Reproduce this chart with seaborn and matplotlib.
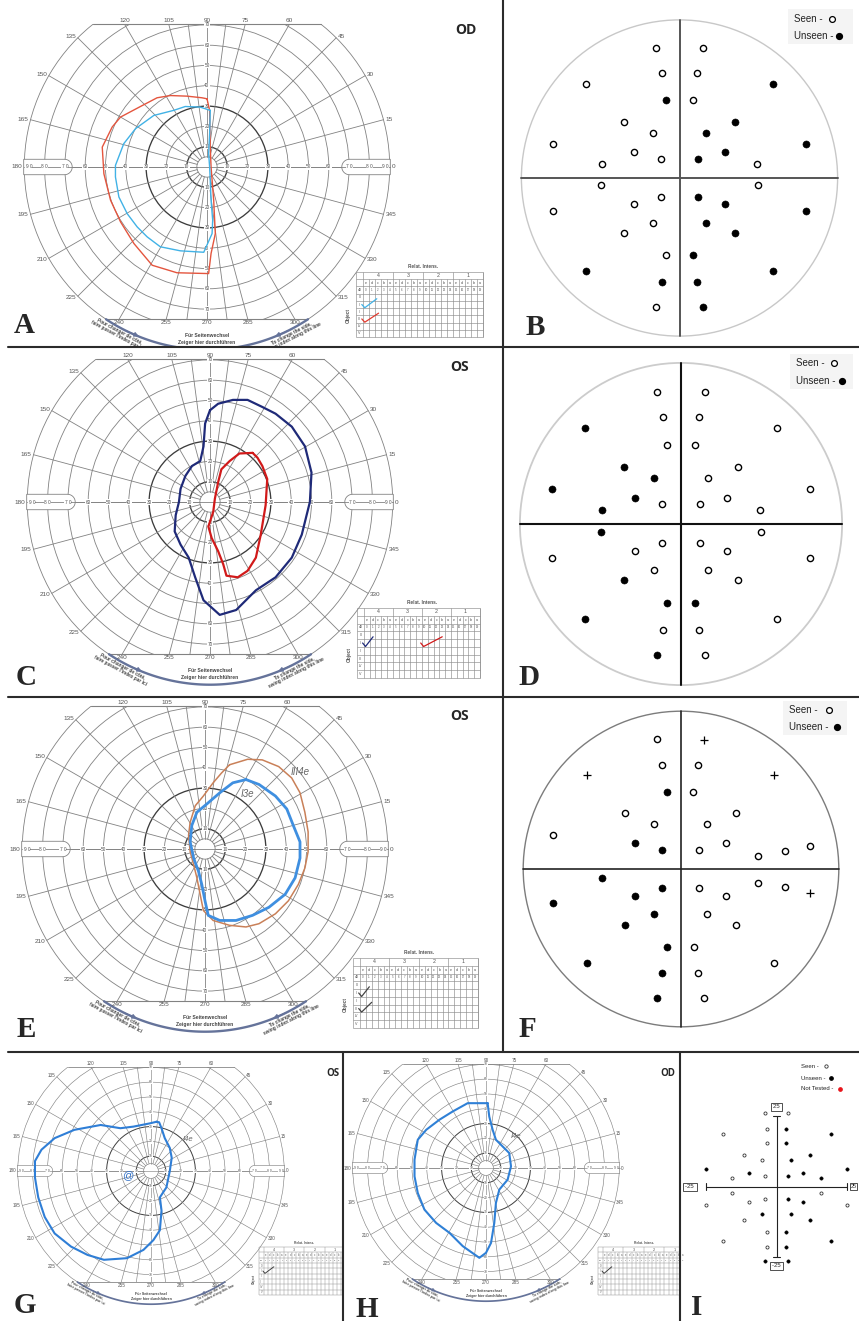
import numpy as np
import pandas as pd
import matplotlib
matplotlib.use("Agg")
import matplotlib.pyplot as plt
import seaborn as sns
from matplotlib.patches import Circle, Rectangle, Polygon
from matplotlib.lines import Line2D

sns.set_style("white")
plt.rcParams['font.family'] = ['Liberation Sans', 'DejaVu Sans']

W, H = 859, 1321
fig = plt.figure(figsize=(W / 100, H / 100), dpi=100)

# ---------------------------------------------------------------- data
MERIDIANS = list(range(0, 360, 15))
RINGS = [10, 20, 30, 40, 50, 60, 70, 80, 90]

# isopters: horizontal / vertical eccentricity in degrees
A_RED_X = [0, 1.3, 1.6, 2.0, 3.3, 4.1, 2.0, 0.8, -14.8, -27.0, -36.0, -42.6, -47.5, -50.8, -51.6, -46.7, -42.6, -32.8, -24.6, -18.0, -9.8, -2.5, 0]
A_RED_Y = [33.6, 27.9, 9.8, 0.0, -16.4, -32.8, -42.6, -52.5, -52.1, -48.4, -37.7, -27.0, -16.4, -3.3, 9.8, 19.7, 24.6, 29.8, 34.1, 35.2, 34.9, 34.1, 33.6]
A_BLUE_X = [1.6, -3.3, -10.7, -16.4, -26.2, -35.2, -41.0, -45.1, -45.1, -43.4, -39.3, -34.4, -29.5, -23.0, -13.1, -1.6, 2.5, 2.8, 2.0, 1.6, 1.3, 0.8, 1.3, 1.6]
A_BLUE_Y = [27.9, 29.5, 29.8, 27.9, 25.4, 18.9, 11.5, 0.8, -4.9, -14.8, -23.0, -29.5, -34.4, -39.3, -41.3, -42.0, -32.8, -26.2, -16.4, -6.6, 0.0, 6.6, 16.4, 27.9]

C_NAVY_X = [0.0, -2.4, -3.2, -4.8, -8.9, -12.1, -14.5, -15.3, -16.9, -17.4, -14.5, -10.5, -7.3, -3.2, 4.8, 12.9, 22.6, 32.3, 40.3, 45.2, 49.2, 50.0, 46.8, 40.3, 32.3, 25.8, 18.5, 11.3, 4.0, 0.0]
C_NAVY_Y = [45.2, 38.7, 27.4, 20.2, 17.7, 12.9, 6.5, 0.0, -6.5, -14.5, -21.0, -27.4, -37.1, -48.4, -55.6, -53.2, -43.5, -37.1, -27.4, -16.1, 0.0, 14.5, 27.4, 37.1, 43.5, 46.8, 50.3, 50.3, 48.4, 45.2]
C_RED_X = [21.0, 14.5, 9.7, 5.6, 4.0, 2.4, 1.6, -0.8, 0.8, 4.0, 6.5, 8.1, 13.7, 18.5, 22.6, 25.0, 27.4, 28.2, 25.8, 23.4, 21.0]
C_RED_Y = [24.2, 23.9, 20.2, 16.1, 9.7, 1.6, -4.8, -12.1, -17.7, -24.2, -30.6, -36.3, -37.1, -33.9, -27.4, -16.1, -1.6, 11.3, 17.7, 21.8, 24.2]

E_BROWN_X = [12.1, 21.0, 28.2, 36.3, 42.7, 46.8, 49.2, 50.8, 50.8, 49.2, 46.0, 41.1, 34.7, 26.6, 20.2, 12.1, 4.0, -0.8, -2.4, -4.0, -5.6, -7.3, -8.1, -7.3, -4.8, -0.8, 4.0, 8.1, 12.1]
E_BROWN_Y = [41.5, 44.2, 43.9, 40.6, 35.0, 27.7, 18.1, 8.4, -1.3, -9.4, -17.4, -25.5, -31.9, -36.8, -38.4, -37.6, -35.2, -30.3, -22.3, -14.2, -7.7, -1.3, 6.8, 13.2, 21.3, 26.1, 32.6, 37.4, 41.5]
E_BLUE_X = [20.2, 26.6, 34.7, 40.3, 43.5, 46.8, 46.8, 44.4, 39.5, 31.5, 23.4, 15.3, 7.3, 1.6, 0.0, -1.6, -3.2, -5.6, -7.3, -6.5, -4.0, 0.8, 7.3, 13.7, 20.2]
E_BLUE_Y = [34.2, 31.8, 26.1, 19.7, 11.6, 3.5, -4.5, -14.2, -22.3, -28.7, -32.7, -35.2, -35.2, -32.7, -25.5, -17.4, -11.0, -4.5, 3.5, 11.6, 18.1, 22.1, 27.7, 32.6, 34.2]

G_BLUE_X = [3.8, -0.7, -11.8, -20.7, -34.0, -51.8, -65.1, -74.0, -78.4, -78.4, -76.2, -71.8, -65.1, -54.0, -42.9, -31.8, -16.2, -5.1, 1.6, 6.0, 7.1, 6.0, 10.4, 12.7, 14.0, 12.7, 9.3, 7.1, 5.5, 3.8]
G_BLUE_Y = [33.3, 32.2, 30.0, 28.9, 31.1, 27.8, 22.2, 14.4, 6.7, -4.4, -17.8, -31.1, -42.2, -51.1, -56.7, -60.0, -58.9, -53.3, -46.7, -40.0, -26.7, -17.8, -11.1, 0.0, 8.9, 15.6, 22.2, 28.9, 32.9, 33.3]

H_BLUE_X = [1.1, -6.7, -12.4, -22.5, -31.5, -40.4, -46.1, -48.3, -48.3, -46.1, -41.6, -33.7, -24.7, -15.7, -4.5, 0.0, 3.4, 5.6, 6.7, 9.0, 14.6, 16.9, 15.7, 11.2, 6.7, 4.5, 2.2, 1.1]
H_BLUE_Y = [43.8, 43.8, 43.8, 38.2, 32.6, 25.8, 19.1, 5.6, -5.6, -16.9, -28.1, -37.1, -43.8, -52.8, -60.7, -57.3, -50.6, -37.1, -23.6, -14.6, -7.9, 1.1, 10.1, 14.6, 19.1, 25.8, 34.8, 43.8]

# static perimetry test locations (degrees), left half; right half mirrored
LOC_X_LEFT = [-4.4, -3.4, -17.8, -2.6, -10.6, -5.0, -24.0, -8.6, -3.6, -14.8,
              -14.9, -3.6, -8.6, -24.0, -5.0, -10.6, -2.6, -17.8, -3.4, -4.4]
LOC_Y = [24.6, 19.9, 17.9, 14.8, 10.6, 8.6, 6.5, 4.9, 3.7, 2.7,
         -1.4, -3.6, -5.0, -6.3, -8.5, -10.5, -14.7, -17.7, -19.7, -24.4]
B_STATUS_LEFT = ['s', 's', 's', 'u', 's', 's', 's', 's', 's', 's',
                 's', 's', 's', 's', 's', 's', 's', 'u', 'u', 's']
B_STATUS_RIGHT = ['s', 's', 'u', 's', 'u', 'u', 'u', 'u', 'u', 's',
                  's', 'u', 'u', 'u', 'u', 'u', 'u', 'u', 'u', 'u']
D_STATUS_LEFT = ['s', 's', 'u', 's', 'u', 'u', 'u', 'u', 's', 'u',
                 'u', 's', 's', 's', 's', 'u', 'u', 'u', 's', 'u']
D_STATUS_RIGHT = ['s', 's', 's', 's', 's', 's', 's', 's', 's', 's',
                  's', 's', 's', 's', 's', 's', 'u', 's', 's', 's']

F_X = [-4.6, -3.6, -17.8, -2.7, -10.7, -5.1, -24.3, -8.8, -3.7,
       4.3, 3.3, 17.7, 2.3, 10.5, 5.0, 8.5, 3.5, 14.6, 19.7, 24.6,
       14.6, 19.7, 24.6, 3.5, 8.5, 5.0, 10.5, 2.5, 17.7, 3.3, 4.3,
       -15.0, -3.7, -8.8, -24.3, -5.1, -10.7, -2.7, -17.8, -3.6, -4.6]
F_Y = [24.7, 19.8, 17.8, 14.7, 10.6, 8.6, 6.5, 5.0, 3.6,
       24.6, 19.8, 17.8, 14.7, 10.6, 8.6, 5.0, 3.6, 2.5, 3.4, 4.4,
       -2.6, -3.4, -4.5, -3.6, -5.1, -8.6, -10.7, -14.8, -17.8, -19.7, -24.6,
       -1.7, -3.6, -5.1, -6.5, -8.6, -10.7, -14.8, -17.8, -19.7, -24.6]
F_STATUS = ['s', 's', '+', 'u', 's', 's', 's', 'u', 'u',
            '+', 's', '+', 's', 's', 's', 's', 's', 's', 's', 's',
            's', 's', '+', 's', 's', 's', 's', 's', 's', 's', 's',
            'u', 'u', 'u', 'u', 'u', 'u', 'u', 'u', 'u', 'u']

I_X = [-4.2, 4.1, -3.3, 3.2, -18.9, 19.1, -3.3, 3.2, -11.6, 11.6, -5.3, 5.2, -25.1, 25.0, -9.7, 9.4, -15.8, 15.8, -4.2, 4.1,
       -15.8, 15.8, -25.1, 25.0, -9.7, 9.4, -4.2, 4.1, -5.3, 5.2, -11.6, 11.6, -3.3, 3.2, -18.9, 19.1, -3.3, 3.2, -4.2, 4.1]
I_Y = [25.9, 25.9, 20.5, 20.5, 18.6, 18.6, 15.5, 15.5, 11.2, 11.2, 9.3, 9.3, 6.1, 6.1, 4.9, 4.9, 2.9, 2.9, 3.9, 3.9,
       -2.4, -2.4, -6.5, -6.5, -5.5, -5.5, -4.5, -4.5, -9.8, -9.8, -11.8, -11.8, -16.1, -16.1, -19.1, -19.1, -21.2, -21.2, -26.4, -26.4]
I_STATUS = ['s', 's', 's', 'u', 's', 'u', 's', 'u', 's', 'u', 's', 'u', 'u', 'u', 'u', 'u', 's', 'u', 's', 'u',
            's', 's', 's', 's', 's', 'u', 's', 'u', 'u', 'u', 's', 'u', 's', 'u', 's', 'u', 's', 'u', 'u', 'u']

TABLE_GROUPS = ['4', '3', '2', '1']
TABLE_LETTERS = ['e', 'd', 'c', 'b', 'a']
TABLE_OBJECTS = ['0', 'I', 'II', 'III', 'IV', 'V']


# ---------------------------------------------------------------- helpers
class Panel:
    def __init__(self, box, center, s):
        x0, y0, x1, y1 = box
        self.cx, self.cy, self.s = center[0], center[1], s
        self.ax = fig.add_axes([x0 / W, 1 - y1 / H, (x1 - x0) / W, (y1 - y0) / H])
        self.lim = ((x0 - self.cx) / s, (x1 - self.cx) / s), ((self.cy - y1) / s, (self.cy - y0) / s)
        self.fix()
        self.ax.set_axis_off()

    def fix(self):
        self.ax.set_xlim(*self.lim[0])
        self.ax.set_ylim(*self.lim[1])

    def P(self, px, py):
        return (px - self.cx) / self.s, (self.cy - py) / self.s


def ftext(px, py, s, **kw):
    fig.text(px / W, 1 - py / H, s, **kw)


def fline(xa, ya, xb, yb, lw=1.5, color='#2b2b2b'):
    fig.add_artist(Line2D([xa / W, xb / W], [1 - ya / H, 1 - yb / H], color=color, lw=lw,
                          transform=fig.transFigure, zorder=10))


GRID, DARK = '#828282', '#3c3c3c'


def goldmann(p, k=1.0):
    ax = p.ax
    top, bot = 70.5, -75.0
    clip = Rectangle((-130, bot), 260, top - bot, transform=ax.transData)
    for r in [5] + RINGS:
        dark = r in (10, 30)
        c = Circle((0, 0), r, fill=False, ec=DARK if dark else GRID,
                   lw=(0.95 if dark else 0.6) * k, zorder=1)
        ax.add_patch(c)
        c.set_clip_path(clip)
    for a in MERIDIANS + [82.5, 97.5, 262.5, 277.5]:
        t = np.deg2rad(a)
        r0 = 5 if a % 15 == 0 else 10
        ln, = ax.plot([r0 * np.cos(t), 90 * np.cos(t)], [r0 * np.sin(t), 90 * np.sin(t)],
                      color=GRID, lw=0.6 * k, zorder=1)
        ln.set_clip_path(clip)
    hx = np.sqrt(90 ** 2 - top ** 2)
    bx = np.sqrt(90 ** 2 - bot ** 2)
    ax.plot([-hx, hx], [top, top], color=GRID, lw=0.8 * k, zorder=1)
    ax.plot([-bx, bx], [bot, bot], color=GRID, lw=0.8 * k, zorder=1)
    # side-change arc
    a0 = 180 + np.degrees(np.arcsin(-bot / 90))
    th = np.deg2rad(np.linspace(a0, 540 - a0, 80))
    ax.plot(90 * np.cos(th), 90 * np.sin(th), color='#65739a', lw=1.7 * k, zorder=2)
    for a_from, a_to in [(243, 249), (297, 291)]:
        f, t_ = np.deg2rad(a_from), np.deg2rad(a_to)
        ax.annotate('', xy=(90 * np.cos(t_), 90 * np.sin(t_)), xytext=(90 * np.cos(f), 90 * np.sin(f)),
                    arrowprops=dict(arrowstyle='-|>', color='#65739a', lw=0.8 * k,
                                    mutation_scale=7 * k), annotation_clip=True)
    # pills on the horizontal meridian
    for sgn in (-1, 1):
        t = np.linspace(np.pi / 2, -np.pi / 2, 24)
        arc_x = sgn * 70.2 - sgn * 3.8 * np.cos(t)
        arc_y = 3.8 * np.sin(t)
        xs = [sgn * 90.3] + list(arc_x) + [sgn * 90.3]
        ys = [3.8] + list(arc_y) + [-3.8]
        ax.add_patch(Polygon(np.column_stack([xs, ys]), closed=True, fc='white', ec=GRID,
                             lw=0.6 * k, zorder=2))
    ax.plot([-90.3, 90.3], [0, 0], color=GRID, lw=0.6 * k, zorder=2.5)
    # ring labels
    bb = dict(boxstyle='square,pad=0.05', fc='white', ec='none')
    for r in RINGS:
        lab = str(r) if r < 70 else ' '.join(str(r))
        xx = r if r < 90 else 87.8
        for sgn in (-1, 1):
            ax.text(sgn * xx, 0, lab, fontsize=3.4 * k, color='#505050', ha='center', va='center',
                    bbox=bb, zorder=3)
    for r in RINGS[:7]:
        for sgn in (-1, 1):
            ax.text(0, sgn * r, str(r), fontsize=3.4 * k, color='#505050', ha='center', va='center',
                    bbox=bb, zorder=3)
    # meridian labels
    for a in MERIDIANS:
        t = np.deg2rad(a)
        c, s = np.cos(t), np.sin(t)
        if 55 <= a <= 125:
            ax.text(top * c / s, top + 0.4, str(a), fontsize=4.6 * k, color='#555',
                    ha='center', va='bottom', zorder=3)
        elif 235 <= a <= 305:
            ax.text(bot * c / s, bot - 0.6, str(a), fontsize=4.6 * k, color='#555',
                    ha='center', va='top', zorder=3)
        else:
            ha = 'left' if c > 0.2 else ('right' if c < -0.2 else 'center')
            ax.text(91 * c, 91 * s, str(a), fontsize=4.6 * k, color='#555',
                    ha=ha, va='center', zorder=3)
    ax.text(0, -83.2, 'Für Seitenwechsel', fontsize=3.6 * k, color='#444', ha='center',
            va='center', clip_on=True, fontweight='bold')
    ax.text(0, -86.4, 'Zeiger hier durchführen', fontsize=3.6 * k, color='#444', ha='center',
            va='center', clip_on=True, fontweight='bold')
    ax.text(93 * np.cos(np.deg2rad(242)), 93 * np.sin(np.deg2rad(242)),
            'Pour changer de côté,\nfaire passer l\'index par ici', fontsize=3.4 * k, color='#444',
            ha='center', va='center', rotation=-28, clip_on=True, linespacing=0.9, fontweight='bold')
    ax.text(93 * np.cos(np.deg2rad(297)), 93 * np.sin(np.deg2rad(297)),
            'To change the side,\nswing index along this line', fontsize=3.4 * k, color='#444',
            ha='center', va='center', rotation=27, clip_on=True, linespacing=0.9, fontweight='bold')


def isopter(p, xs, ys, color, lw):
    sns.lineplot(x=xs, y=ys, sort=False, estimator=None, color=color, lw=lw, ax=p.ax,
                 zorder=5, solid_joinstyle='round', solid_capstyle='round')


def rel_table(p, box, checks, k=1.0):
    x0, y0, x1, y1 = box
    ax = p.ax
    rh = (y1 - y0) / 9
    lc = (x1 - x0) * 0.055
    cw = (x1 - x0 - lc) / 20

    def L(xa, ya, xb, yb):
        (a, b), (c, d) = p.P(xa, ya), p.P(xb, yb)
        ax.plot([a, c], [b, d], color='#8c8c8c', lw=0.45 * k, zorder=2, solid_capstyle='butt')

    def T(px, py, s, fs, **kw):
        ax.text(*p.P(px, py), s, fontsize=fs, ha='center', va='center', color='#555', **kw)

    for i in range(10):
        L(x0, y0 + i * rh, x1, y0 + i * rh)
    L(x0, y0, x0, y1)
    L(x1, y0, x1, y1)
    for j in range(21):
        xx = x0 + lc + j * cw
        L(xx, y0 if j % 5 == 0 else y0 + rh, xx, y1)
    T((x0 + x1) / 2 + lc / 2, y0 - rh * 0.75, 'Relat. Intens.', 3.4 * k, fontweight='bold')
    for g, lab in enumerate(TABLE_GROUPS):
        T(x0 + lc + (g * 5 + 2.5) * cw, y0 + 0.5 * rh, lab, 3.8 * k)
    for j in range(20):
        xc = x0 + lc + (j + 0.5) * cw
        T(xc, y0 + 1.5 * rh, TABLE_LETTERS[j % 5], 2.7 * k)
        T(xc, y0 + 2.5 * rh, str(j), 2.1 * k)
    T(x0 + lc / 2, y0 + 2.5 * rh, 'dB', 2.3 * k)
    for i, lab in enumerate(TABLE_OBJECTS):
        T(x0 + lc / 2, y0 + (3.5 + i) * rh, lab, 2.6 * k)
    T(x0 - 8 * k, y0 + 6 * rh, 'Object', 3.4 * k, rotation=90, fontweight='bold')
    for row, c0, c1, col in checks:
        yb = y0 + (4 + row) * rh
        xs_px = [x0 + lc + c0 * cw - 0.2 * cw, x0 + lc + c0 * cw + 0.3 * cw, x0 + lc + c1 * cw]
        ys_px = [yb - 0.5 * rh, yb - 0.05 * rh, yb - 1.3 * rh]
        pts = [p.P(a, b) for a, b in zip(xs_px, ys_px)]
        ax.plot([q[0] for q in pts], [q[1] for q in pts], color=col, lw=0.9 * k, zorder=4,
                solid_joinstyle='round')


def dot_panel(p, xs, ys, st, circ_c, axis_c, axis_lw, s_open, s_fill, ring_lw=1.0):
    ax = p.ax
    ax.add_patch(Circle((0, 0), 30, fill=False, ec=circ_c, lw=ring_lw, zorder=1))
    ax.plot([-30, 30], [0, 0], color=axis_c, lw=axis_lw, zorder=1)
    ax.plot([0, 0], [-30, 30], color=axis_c, lw=axis_lw, zorder=1)
    df = pd.DataFrame({'x': xs, 'y': ys, 'st': st})
    sns.scatterplot(data=df[df.st == 's'], x='x', y='y', s=s_open, color='white', edgecolor='black',
                    linewidth=1.0, ax=ax, zorder=3, legend=False)
    sns.scatterplot(data=df[df.st == 'u'], x='x', y='y', s=s_fill, color='black', edgecolor='black',
                    linewidth=0.4, ax=ax, zorder=3, legend=False)
    if (df.st == '+').any():
        sns.scatterplot(data=df[df.st == '+'], x='x', y='y', s=s_fill * 1.2, marker='+',
                        color='black', linewidth=0.9, ax=ax, zorder=3, legend=False)
    p.fix()


def dot_legend(p, x_txt, y_seen, y_unseen, mx_seen, mx_unseen, box, fs=7, ms=4.2):
    ax = p.ax
    bx0, by0, bx1, by1 = box
    (a, b), (c, d) = p.P(bx0, by1), p.P(bx1, by0)
    ax.add_patch(Rectangle((a, b), c - a, d - b, fc='#f4f4f4', ec='none', zorder=0.5))
    ftext(x_txt, y_seen, 'Seen -', fontsize=fs, ha='left', va='center', color='#222')
    ftext(x_txt, y_unseen, 'Unseen -', fontsize=fs, ha='left', va='center', color='#222')
    ax.plot(*p.P(mx_seen, y_seen), marker='o', ms=ms, mfc='white', mec='black', mew=0.9, zorder=4)
    ax.plot(*p.P(mx_unseen, y_unseen), marker='o', ms=ms, mfc='black', mec='black', zorder=4)


LETTER = dict(fontsize=21, fontweight='bold', family='Liberation Serif', ha='left', va='baseline')
EYE = dict(fontweight='bold', family='Open Sans', ha='center', va='center')

# ---------------------------------------------------------------- A
pA = Panel((0, 0, 502, 347), (207, 167), 2.03)
goldmann(pA)
isopter(pA, A_RED_X, A_RED_Y, '#e4553e', 1.0)
isopter(pA, A_BLUE_X, A_BLUE_Y, '#41b2e6', 1.0)
rel_table(pA, (356, 272, 483, 337), [(1, 0, 2.3, '#41b2e6'), (3, 0, 2.6, '#e03a2e')])
pA.fix()
ftext(466, 30, 'OD', fontsize=10, **EYE)
ftext(14, 333, 'A', **LETTER)

# ---------------------------------------------------------------- C
pC = Panel((0, 347, 502, 697), (210, 502), 2.03)
goldmann(pC)
isopter(pC, C_NAVY_X, C_NAVY_Y, '#1f2a78', 1.6)
isopter(pC, C_RED_X, C_RED_Y, '#d11a1a', 1.6)
rel_table(pC, (357, 608, 480, 678), [(1, 0, 1.6, '#1f2a78'), (1, 10, 13.5, '#d11a1a')])
pC.fix()
ftext(460, 367, 'OS', fontsize=10, **EYE)
ftext(16, 685, 'C', **LETTER)

# ---------------------------------------------------------------- E
pE = Panel((0, 697, 502, 1052), (205, 849), 2.03)
goldmann(pE)
isopter(pE, E_BROWN_X, E_BROWN_Y, '#c98058', 1.1)
isopter(pE, E_BLUE_X, E_BLUE_Y, '#3f8fe0', 2.0)
rel_table(pE, (353, 958, 478, 1028), [(1, 0, 1.6, '#444'), (3, 0, 2.0, '#444')])
pE.ax.text(47, 38, 'III4e', fontsize=7, color='#666', style='italic', ha='center', va='center', zorder=6)
pE.ax.text(21, 27, 'I3e', fontsize=7, color='#666', style='italic', ha='center', va='center', zorder=6)
pE.fix()
ftext(460, 716, 'OS', fontsize=10, **EYE)
ftext(17, 1037, 'E', **LETTER)

# ---------------------------------------------------------------- G
pG = Panel((0, 1052, 343, 1321), (151, 1171), 1.48)
goldmann(pG, k=0.73)
isopter(pG, G_BLUE_X, G_BLUE_Y, '#2f7ed6', 1.5)
rel_table(pG, (259, 1247, 345, 1295), [(1, 0, 2.5, '#333')], k=0.7)
pG.ax.text(24.7, 21.3, 'I4e', fontsize=5.5, color='#666', style='italic', ha='center', va='center', zorder=6)
pG.ax.text(-16, -2.7, '@', fontsize=8, color='#2f6fc6', ha='center', va='center', zorder=6)
pG.fix()
ftext(333, 1074, 'OS', fontsize=7, **EYE)
ftext(14, 1313, 'G', **LETTER)

# ---------------------------------------------------------------- H
pH = Panel((343, 1052, 680, 1321), (486, 1168), 1.48)
goldmann(pH, k=0.73)
isopter(pH, H_BLUE_X, H_BLUE_Y, '#2f80d6', 1.5)
rel_table(pH, (598, 1247, 685, 1295), [(1, 0, 2.2, '#333')], k=0.7)
pH.ax.text(20, 21, 'I4e', fontsize=5.5, color='#666', style='italic', ha='center', va='center', zorder=6)
pH.fix()
ftext(668, 1073, 'OD', fontsize=7, **EYE)
ftext(355, 1317, 'H', **LETTER)

# ---------------------------------------------------------------- B, D, F
loc_x = LOC_X_LEFT + [-v for v in LOC_X_LEFT]
pB = Panel((503, 0, 859, 347), (679.5, 178), 5.27)
dot_panel(pB, loc_x, LOC_Y + LOC_Y, B_STATUS_LEFT + B_STATUS_RIGHT, '#c8c8c8', '#555', 1.4, 20, 26)
dot_legend(pB, 794, 19, 36, 832, 839, (788, 9, 853, 44))
pB.fix()
ftext(526, 335, 'B', **LETTER)

pD = Panel((503, 347, 859, 697), (681, 524), 5.37)
dot_panel(pD, loc_x, LOC_Y + LOC_Y, D_STATUS_LEFT + D_STATUS_RIGHT, '#cccccc', '#111', 1.5, 20, 26,
          ring_lw=1.3)
dot_legend(pD, 796, 363, 381, 834, 842, (790, 354, 853, 389))
pD.fix()
ftext(518, 685, 'D', **LETTER)

pF = Panel((503, 697, 859, 1052), (681, 869), 5.26)
dot_panel(pF, F_X, F_Y, F_STATUS, '#7c7c7c', '#222', 1.2, 20, 26)
dot_legend(pF, 789, 710, 727, 829, 837, (783, 701, 847, 735))
pF.fix()
ftext(519, 1037, 'F', **LETTER)

# ---------------------------------------------------------------- I
pI = Panel((681, 1052, 859, 1321), (776.7, 1186.7), 2.83)
axI = pI.ax
axI.plot([-25, 25], [0, 0], color='#222', lw=0.8, zorder=1)
axI.plot([0, 0], [-25, 25], color='#222', lw=0.8, zorder=1)
for sgn in (-1, 1):
    axI.plot([sgn * 25, sgn * 25], [-1.3, 1.3], color='#222', lw=0.8)
    axI.plot([-1.3, 1.3], [sgn * 25, sgn * 25], color='#222', lw=0.8)
dfI = pd.DataFrame({'x': I_X, 'y': I_Y, 'st': I_STATUS})
sns.scatterplot(data=dfI[dfI.st == 's'], x='x', y='y', s=5, color='white', edgecolor='#333',
                linewidth=0.6, ax=axI, zorder=3, legend=False)
sns.scatterplot(data=dfI[dfI.st == 'u'], x='x', y='y', s=6, color='black', edgecolor='black',
                linewidth=0.3, ax=axI, zorder=3, legend=False)
boxkw = dict(boxstyle='square,pad=0.25', fc='white', ec='#333', lw=0.6)
axI.text(0, 28.2, '25 ', fontsize=4.3, ha='center', va='center', bbox=boxkw, zorder=4)
axI.text(0, -28.0, '-25 ', fontsize=4.3, ha='center', va='center', bbox=boxkw, zorder=4)
axI.text(-30.6, 0, '-25 ', fontsize=4.3, ha='center', va='center', bbox=boxkw, zorder=4)
axI.text(28.2, 0, '25', fontsize=4.0, ha='right', va='center',
         bbox=dict(boxstyle='square,pad=0.15', fc='white', ec='#333', lw=0.6), zorder=4)
ftext(801, 1066, 'Seen -', fontsize=4.3, ha='left', va='center', color='#222')
ftext(801, 1078, 'Unseen -', fontsize=4.3, ha='left', va='center', color='#222')
ftext(801, 1089, 'Not Tested -', fontsize=4.3, ha='left', va='center', color='#222')
axI.plot(*pI.P(826, 1066), marker='o', ms=2.4, mfc='white', mec='#333', mew=0.6)
axI.plot(*pI.P(831, 1078), marker='o', ms=2.4, mfc='black', mec='black')
axI.plot(*pI.P(840, 1089), marker='o', ms=2.4, mfc='#e8141b', mec='#e8141b')
pI.fix()
ftext(691, 1315, 'I', **LETTER)

# ---------------------------------------------------------------- borders
fline(503, 0, 503, 1052)
fline(8, 347, 859, 347)
fline(8, 697, 859, 697)
fline(8, 1052, 859, 1052)
fline(343, 1052, 343, 1321)
fline(680, 1052, 680, 1321)

fig.savefig('out.png', dpi=100, facecolor='white')
